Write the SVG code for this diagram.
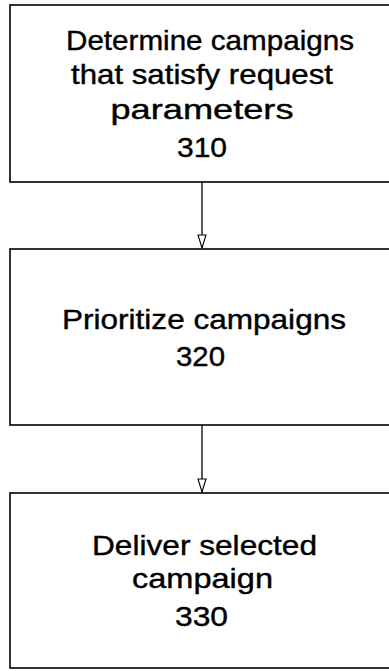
<svg xmlns="http://www.w3.org/2000/svg" width="389" height="671" viewBox="0 0 389 671">
<style>
.box{fill:#fff;stroke:#000;stroke-width:1.6}
.t{font-family:"Liberation Sans",Arial,sans-serif;font-size:28px;fill:#000;stroke:#000;stroke-width:0.4;text-anchor:middle}
.c{stroke:#000;stroke-width:1.3;fill:none}
</style>
<defs>
<marker id="ah" markerUnits="userSpaceOnUse" markerWidth="15" markerHeight="10" refX="14" refY="5" orient="auto" viewBox="0 0 15 10">
<path d="M1,1 L14,5 L1,9 Z" fill="#fff" stroke="#000" stroke-width="1.1"/>
</marker>
</defs>
<rect width="389" height="671" fill="#fff"/>
<g id="node310">
<rect class="box" x="10" y="5" width="385" height="177"/>
<text class="t" x="210" y="50" textLength="288" lengthAdjust="spacingAndGlyphs">Determine campaigns</text>
<text class="t" x="202" y="84" textLength="262" lengthAdjust="spacingAndGlyphs">that satisfy request</text>
<text class="t" x="202" y="119" textLength="183" lengthAdjust="spacingAndGlyphs">parameters</text>
<text class="t" x="202" y="157" textLength="50" lengthAdjust="spacingAndGlyphs">310</text>
</g>
<g id="node320">
<rect class="box" x="10" y="249" width="385" height="176"/>
<text class="t" x="204" y="329" textLength="284" lengthAdjust="spacingAndGlyphs">Prioritize campaigns</text>
<text class="t" x="200.5" y="366" textLength="49" lengthAdjust="spacingAndGlyphs">320</text>
</g>
<g id="node330">
<rect class="box" x="10" y="493" width="385" height="175"/>
<text class="t" x="204.5" y="555" textLength="225" lengthAdjust="spacingAndGlyphs">Deliver selected</text>
<text class="t" x="202.5" y="588" textLength="141" lengthAdjust="spacingAndGlyphs">campaign</text>
<text class="t" x="201.5" y="626" textLength="53" lengthAdjust="spacingAndGlyphs">330</text>
</g>
<g id="connectors">
<line class="c" x1="202" y1="182" x2="202" y2="248" marker-end="url(#ah)"/>
<line class="c" x1="202" y1="425" x2="202" y2="492" marker-end="url(#ah)"/>
</g>
</svg>
